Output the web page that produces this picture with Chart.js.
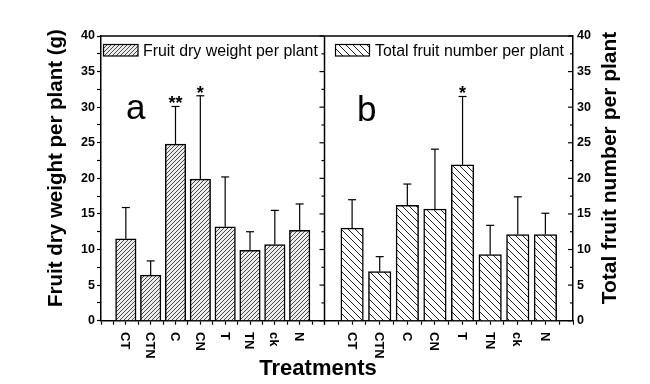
<!DOCTYPE html>
<html>
<head>
<meta charset="utf-8">
<script src="https://cdn.jsdelivr.net/npm/chart.js@4.4.0/dist/chart.umd.min.js"></script>
<style>
html,body{margin:0;padding:0;background:#fff;}
#wrap{position:relative;width:650px;height:384px;}
canvas{display:block;}
</style>
</head>
<body>
<div id="wrap"><canvas id="c" width="650" height="384"></canvas></div>
<script>
// ---- data ----
const categories = ['CT', 'CTN', 'C', 'CN', 'T', 'TN', 'ck', 'N'];
const dryWeight = [11.5, 6.4, 24.8, 19.9, 13.2, 9.9, 10.7, 12.7];
const dryWeightSD = [4.4, 2.0, 5.3, 11.7, 7.0, 2.6, 4.8, 3.7];
const dryWeightSig = ['', '', '**', '*', '', '', '', ''];
const fruitNumber = [13.0, 6.9, 16.2, 15.7, 21.9, 9.3, 12.1, 12.1];
const fruitNumberSD = [4.0, 2.1, 3.0, 8.4, 9.6, 4.1, 5.3, 3.0];
const fruitNumberSig = ['', '', '', '', '*', '', '', ''];
const yTickLabels = ['0', '5', '10', '15', '20', '25', '30', '35', '40'];
const seriesNames = ['Fruit dry weight per plant', 'Total fruit number per plant'];
const axisTitles = ['Fruit dry weight per plant (g)', 'Total fruit number per plant', 'Treatments'];
const panelLetters = ['a', 'b'];

// ---- helpers ----
const FF = '"Liberation Sans", Arial, sans-serif';
const canvas = document.getElementById('c');
const ctx0 = canvas.getContext('2d');

function makeHatch(size, dir, bg, fg, lw) {
  const c = document.createElement('canvas');
  c.width = size; c.height = size;
  const g = c.getContext('2d');
  g.fillStyle = bg; g.fillRect(0, 0, size, size);
  g.strokeStyle = fg; g.lineWidth = lw;
  g.beginPath();
  for (const k of [-size, 0, size]) {
    if (dir === '/') { g.moveTo(k, size); g.lineTo(k + size, 0); }
    else { g.moveTo(k, 0); g.lineTo(k + size, size); }
  }
  g.stroke();
  return ctx0.createPattern(c, 'repeat');
}
const hatchA = makeHatch(4, '/', '#ececec', '#484848', 1.0);
const hatchB = makeHatch(7, '\\', '#ffffff', '#222222', 1.0);

const xTickValues = [];
for (let v = 0; v <= 9; v += 0.5) xTickValues.push(v);
const yTickValues = [];
for (let v = 0; v <= 40; v += 2.5) yTickValues.push(v);

function xScale(stackWeight) {
  return {
    type: 'linear', position: 'bottom', stack: 'xs', stackWeight: stackWeight,
    min: 0, max: 9, offset: false,
    afterBuildTicks: s => { s.ticks = xTickValues.map(v => ({ value: v })); },
    afterFit: s => { s.height = 63.3; },
    ticks: { display: false, autoSkip: false },
    grid: { display: true, offset: false, drawOnChartArea: false, drawTicks: true, tickLength: 4,
            color: '#000', tickColor: '#000', tickWidth: 1.2 },
    border: { display: true, color: '#000', width: 1.5 }
  };
}

const drawPlugin = {
  id: 'extras',
  afterDraw(chart) {
    const ctx = chart.ctx;
    const ca = chart.chartArea;
    const xa = chart.scales.xa, xb = chart.scales.xb, ya = chart.scales.ya, yb = chart.scales.yb;
    const line = (x1, y1, x2, y2) => { ctx.beginPath(); ctx.moveTo(x1, y1); ctx.lineTo(x2, y2); ctx.stroke(); };
    ctx.save();
    ctx.strokeStyle = '#000'; ctx.fillStyle = '#000';
    // frame
    ctx.lineWidth = 1.5;
    line(ca.left, ca.top, ca.right, ca.top);
    line(xa.right, ca.top, xa.right, ca.bottom);
    // inner ticks
    ctx.lineWidth = 1.2;
    for (const v of yTickValues) {
      const y = ya.getPixelForValue(v);
      const len = (v % 5 === 0) ? 5 : 3;
      line(xa.right - len, y, xa.right, y);
      line(ca.right - len, y, ca.right, y);
    }
    // error bars + significance
    function err(meta, ys, vals, sds, sig) {
      ctx.lineWidth = 1.2;
      ctx.font = 'bold 18px ' + FF;
      ctx.textAlign = 'center'; ctx.textBaseline = 'alphabetic';
      vals.forEach((v, i) => {
        const x = meta.data[i].x;
        const y0 = ys.getPixelForValue(v);
        const y1 = ys.getPixelForValue(v + sds[i]);
        line(x, y0, x, y1);
        line(x - 4, y1, x + 4, y1);
        if (sig[i]) ctx.fillText(sig[i], x, y1 + 3);
      });
    }
    err(chart.getDatasetMeta(0), ya, dryWeight, dryWeightSD, dryWeightSig);
    err(chart.getDatasetMeta(1), yb, fruitNumber, fruitNumberSD, fruitNumberSig);
    // panel letters
    ctx.font = '35px ' + FF; ctx.textAlign = 'left'; ctx.textBaseline = 'alphabetic';
    ctx.fillText(panelLetters[0], 126, 119);
    ctx.fillText(panelLetters[1], 357, 121);
    // legends
    function legend(x, y, w, h, pat, text, tx) {
      ctx.fillStyle = pat; ctx.fillRect(x, y, w, h);
      ctx.lineWidth = 1.2; ctx.strokeRect(x, y, w, h);
      ctx.fillStyle = '#000';
      ctx.font = '15.9px ' + FF; ctx.textAlign = 'left'; ctx.textBaseline = 'alphabetic';
      ctx.fillText(text, tx, 55.6);
    }
    legend(103.5, 44.5, 34.5, 11.5, hatchA, seriesNames[0], 143);
    legend(335.5, 44.5, 34, 11.5, hatchB, seriesNames[1], 375);
    // x tick labels (rotated clockwise)
    ctx.font = 'bold 13px ' + FF; ctx.textAlign = 'left'; ctx.textBaseline = 'middle';
    [xa, xb].forEach(sc => {
      categories.forEach((c, i) => {
        const x = sc.getPixelForValue(i + 1);
        ctx.save(); ctx.translate(x - 1, 332); ctx.rotate(Math.PI / 2); ctx.fillText(c, 0, 0); ctx.restore();
      });
    });
    // axis titles
    ctx.textAlign = 'center'; ctx.textBaseline = 'alphabetic';
    ctx.font = 'bold 20.5px ' + FF;
    ctx.save(); ctx.translate(62, 168); ctx.rotate(-Math.PI / 2); ctx.fillText(axisTitles[0], 0, 0); ctx.restore();
    ctx.font = 'bold 21px ' + FF;
    ctx.save(); ctx.translate(615.5, 168); ctx.rotate(-Math.PI / 2); ctx.fillText(axisTitles[1], 0, 0); ctx.restore();
    ctx.font = 'bold 22px ' + FF;
    ctx.fillText(axisTitles[2], 318, 375);
    ctx.restore();
  }
};

new Chart(canvas, {
  type: 'bar',
  data: {
    datasets: [
      {
        label: seriesNames[0],
        data: categories.map((c, i) => ({ x: i + 1, y: dryWeight[i] })),
        xAxisID: 'xa', yAxisID: 'ya',
        backgroundColor: hatchA, borderColor: '#000', borderWidth: 1.5,
        barThickness: 20.5, grouped: false
      },
      {
        label: seriesNames[1],
        data: categories.map((c, i) => ({ x: i + 1, y: fruitNumber[i] })),
        xAxisID: 'xb', yAxisID: 'yb',
        backgroundColor: hatchB, borderColor: '#000', borderWidth: 1.5,
        barThickness: 22.5, grouped: false
      }
    ]
  },
  options: {
    responsive: false, animation: false, devicePixelRatio: 1,
    layout: { padding: { top: 36, left: 0, right: 0, bottom: 0 } },
    plugins: { legend: { display: false }, tooltip: { enabled: false } },
    scales: {
      xa: xScale(223.5),
      xb: xScale(248.5),
      ya: {
        type: 'linear', position: 'left', min: 0, max: 40,
        afterBuildTicks: s => { s.ticks = yTickValues.map(v => ({ value: v })); },
        afterFit: s => { s.width = 101; },
        ticks: { autoSkip: false, padding: 2, color: '#000', font: { family: FF, size: 12.5, weight: 'bold' },
                 callback: v => (v % 5 === 0 ? yTickLabels[v / 5] : '') },
        grid: { drawOnChartArea: false, drawTicks: true, tickLength: 4, color: '#000', tickColor: '#000', tickWidth: 1.2 },
        border: { display: true, color: '#000', width: 1.5 }
      },
      yb: {
        type: 'linear', position: 'right', min: 0, max: 40,
        afterBuildTicks: s => { s.ticks = yTickValues.map(v => ({ value: v })); },
        afterFit: s => { s.width = 77; },
        ticks: { autoSkip: false, padding: 4, color: '#000', font: { family: FF, size: 12.5, weight: 'bold' },
                 callback: v => (v % 5 === 0 ? yTickLabels[v / 5] : '') },
        grid: { drawOnChartArea: false, drawTicks: false, color: '#000' },
        border: { display: true, color: '#000', width: 1.5 }
      }
    }
  },
  plugins: [drawPlugin]
});
</script>
</body>
</html>
